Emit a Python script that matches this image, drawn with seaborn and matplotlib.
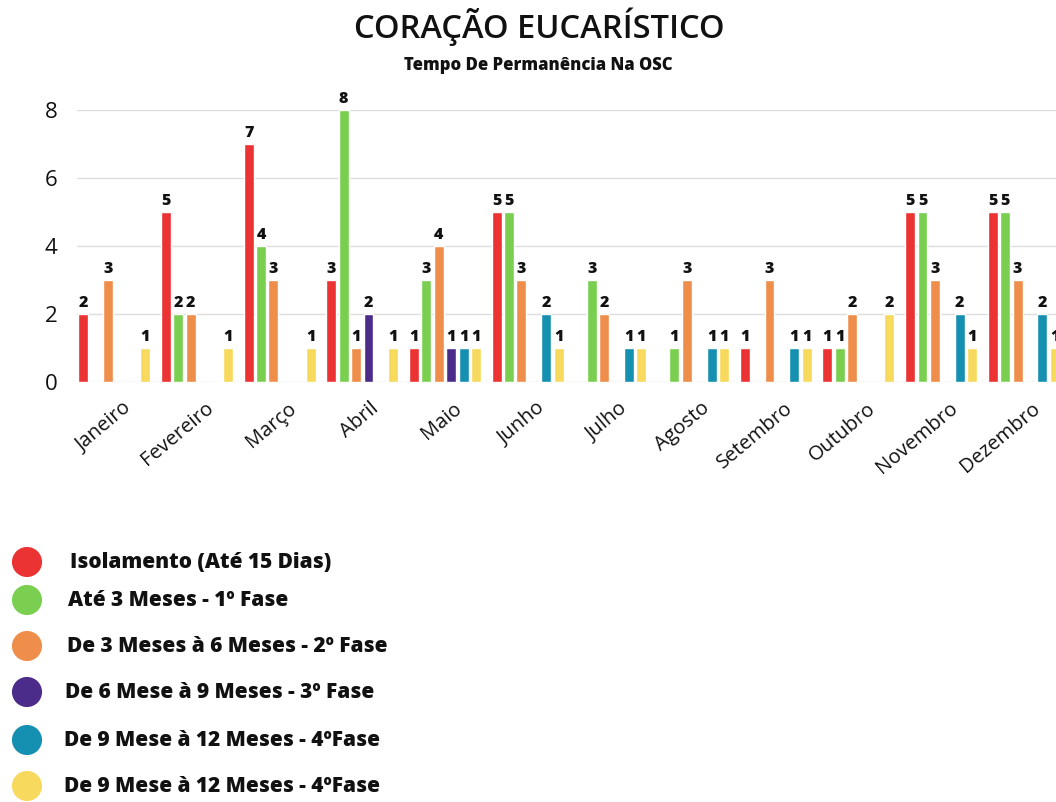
import pandas as pd
import matplotlib
matplotlib.use("Agg")
import matplotlib.pyplot as plt
import matplotlib.transforms as mtrans
import seaborn as sns

# ------------------------------
# Data
# ------------------------------
months = ["Janeiro", "Fevereiro", "Março", "Abril", "Maio", "Junho",
          "Julho", "Agosto", "Setembro", "Outubro", "Novembro", "Dezembro"]

series_labels = [
    "Isolamento (Até 15 Dias)",
    "Até 3 Meses - 1º Fase",
    "De 3 Meses à 6 Meses - 2º Fase",
    "De 6 Mese à 9 Meses - 3º Fase",
    "De 9 Mese à 12 Meses - 4ºFase",
    "De 9 Mese à 12 Meses - 4ºFase",
]
series_colors = ["#EB3334", "#7ACF50", "#EE8E4A", "#4B2C8A", "#1690B0", "#F7D95E"]

isolamento = [2, 5, 7, 3, 1, 5, 0, 0, 1, 1, 5, 5]
fase1 = [0, 2, 4, 8, 3, 5, 3, 1, 0, 1, 5, 5]
fase2 = [3, 2, 3, 1, 4, 3, 2, 3, 3, 2, 3, 3]
fase3 = [0, 0, 0, 2, 1, 0, 0, 0, 0, 0, 0, 0]
fase4a = [0, 0, 0, 0, 1, 2, 1, 1, 1, 0, 2, 2]
fase4b = [1, 1, 1, 1, 1, 1, 1, 1, 1, 2, 1, 1]

all_series = [isolamento, fase1, fase2, fase3, fase4a, fase4b]

rows = []
for k, vals in enumerate(all_series):
    for m, v in zip(months, vals):
        rows.append({"Mes": m, "Serie": k, "Valor": v})
df = pd.DataFrame(rows)

# ------------------------------
# Figure
# ------------------------------
W, H = 1056, 802
fig = plt.figure(figsize=(W / 100, H / 100), dpi=100)
sns.set_style("white")

label_font = ["Open Sans", "DejaVu Sans"]

# axes placed in pixel terms: left 77px, zero line at y=381.7, 8 at y=110
ax = fig.add_axes([77 / W, (H - 381.7) / H, (W - 77) / W, (381.7 - 110) / H])

sns.barplot(
    data=df, x="Mes", y="Valor", hue="Serie",
    order=months, hue_order=list(range(6)),
    palette=series_colors, width=0.9, gap=0.2,
    saturation=1, legend=False, ax=ax, zorder=3,
)

for cont in ax.containers:
    labs = [str(int(b.get_height())) if b.get_height() > 0 else "" for b in cont]
    ax.bar_label(cont, labels=labs, padding=2, fontsize=11.5, fontweight="heavy",
                 family=label_font, color="#111111")

ax.set_xlim(-0.45, 11.39)
ax.set_ylim(0, 8)
ax.set_yticks([0, 2, 4, 6, 8])
ax.yaxis.grid(True, color="#DDDDDD", linewidth=1, zorder=0)
ax.set_axisbelow(True)
for s in ax.spines.values():
    s.set_visible(False)
ax.tick_params(axis="both", length=0)
ax.tick_params(axis="y", pad=14, labelsize=16, labelcolor="#111111")
ax.tick_params(axis="x", pad=12, labelsize=14.5, labelcolor="#111111")
shift = mtrans.ScaledTranslation(8 / 100, 0, fig.dpi_scale_trans)
for t in ax.get_yticklabels():
    t.set_family(label_font)
    t.set_fontweight("medium")
for t in ax.get_xticklabels():
    t.set_family(label_font)
    t.set_fontweight("medium")
    t.set_rotation(40)
    t.set_ha("right")
    t.set_rotation_mode("anchor")
    t.set_transform(t.get_transform() + shift)
ax.set_xlabel("")
ax.set_ylabel("")

# ------------------------------
# Titles and legend (overlay in pixel coordinates)
# ------------------------------
ov = fig.add_axes([0, 0, 1, 1], zorder=5)
ov.set_xlim(0, W)
ov.set_ylim(H, 0)
ov.axis("off")

ov.text(539, 27, "CORAÇÃO EUCARÍSTICO", ha="center", va="center",
        fontsize=23.5, fontweight="semibold", family=label_font, color="#111111")
ov.text(538, 65, "Tempo De Permanência Na OSC", ha="center", va="center",
        fontsize=12, fontweight="heavy", family=label_font, color="#111111")

leg_y = [562, 600, 646, 692, 740, 786]
leg_x = [70, 68, 67, 65, 64, 64]
for lab, col, y, x in zip(series_labels, series_colors, leg_y, leg_x):
    ov.scatter([27], [y], s=470, color=col, edgecolors="none")
    ov.text(x, y, lab, ha="left", va="center", fontsize=15,
            fontweight="heavy", family=label_font, color="#111111")

fig.savefig("out.png", dpi=100)
